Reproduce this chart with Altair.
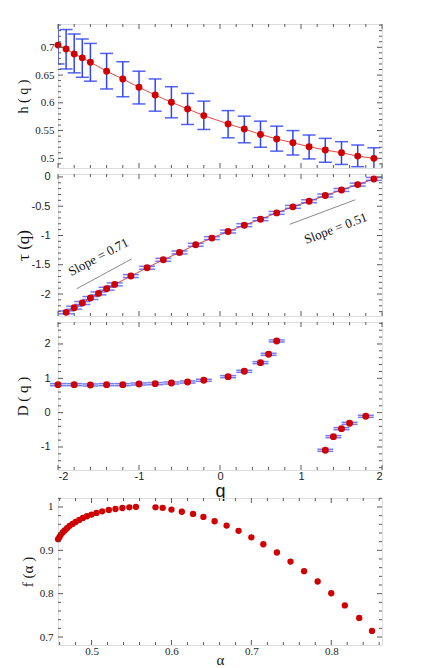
import altair as alt
import pandas as pd

# ---------------- data ----------------
q_h = [-2.0, -1.9, -1.8, -1.7, -1.6, -1.4, -1.2, -1.0, -0.8, -0.6, -0.4, -0.2,
       0.1, 0.3, 0.5, 0.7, 0.9, 1.1, 1.3, 1.5, 1.7, 1.9]
h_val = [0.704, 0.697, 0.688, 0.681, 0.673, 0.657, 0.643, 0.628, 0.614, 0.601, 0.589, 0.577,
         0.562, 0.553, 0.543, 0.535, 0.528, 0.521, 0.515, 0.510, 0.504, 0.500]
h_hi = [0.745, 0.732, 0.724, 0.715, 0.707, 0.689, 0.674, 0.657, 0.643, 0.629, 0.617, 0.603,
        0.586, 0.576, 0.567, 0.558, 0.550, 0.542, 0.536, 0.530, 0.524, 0.519]
h_lo = [0.670, 0.661, 0.654, 0.646, 0.639, 0.625, 0.611, 0.598, 0.585, 0.573, 0.561, 0.552,
        0.537, 0.528, 0.520, 0.513, 0.506, 0.499, 0.493, 0.489, 0.485, 0.479]

q_t = [-1.9, -1.8, -1.7, -1.6, -1.5, -1.4, -1.3, -1.1, -0.9, -0.7, -0.5, -0.3, -0.1,
       0.1, 0.3, 0.5, 0.7, 0.9, 1.1, 1.3, 1.5, 1.7, 1.9]
tau_val = [-2.313, -2.233, -2.153, -2.068, -1.989, -1.909, -1.835, -1.693, -1.551, -1.415,
           -1.290, -1.159, -1.045, -0.932, -0.824, -0.722, -0.614, -0.511, -0.415, -0.318,
           -0.222, -0.131, -0.034]
tau_err = [0.025] * len(q_t)

slope_text = ["Slope = 0.71", "Slope = 0.51"]
slope_tx = [-1.50, 1.43]
slope_ty = [-1.37, -0.88]
slope_ang = [332, 339]
slope_x1 = [-1.77, 0.86]
slope_y1 = [-1.91, -0.81]
slope_x2 = [-1.09, 1.67]
slope_y2 = [-1.40, -0.39]

q_d = [-2.0, -1.8, -1.6, -1.4, -1.2, -1.0, -0.8, -0.6, -0.4, -0.2, 0.1, 0.3, 0.5, 0.6, 0.7,
       1.3, 1.4, 1.5, 1.6, 1.8]
d_val = [0.816, 0.816, 0.806, 0.816, 0.816, 0.835, 0.845, 0.864, 0.893, 0.942, 1.049, 1.204,
         1.456, 1.699, 2.087, -1.097, -0.699, -0.466, -0.311, -0.107]
d_err = [0.03] * len(q_d)

alpha = [0.4581, 0.4598, 0.4614, 0.4639, 0.4664, 0.4693, 0.4726, 0.4763, 0.4801, 0.4846,
         0.4892, 0.4942, 0.5000, 0.5062, 0.5133, 0.5216, 0.5299, 0.5386, 0.5473, 0.5556,
         0.580, 0.589, 0.600, 0.613, 0.627, 0.640, 0.654, 0.669, 0.684, 0.700, 0.715,
         0.732, 0.749, 0.766, 0.783, 0.800, 0.817, 0.835, 0.851]
f_alpha = [0.9258, 0.9304, 0.9357, 0.9411, 0.9457, 0.9510, 0.9564, 0.9610, 0.9656, 0.9702,
           0.9748, 0.9786, 0.9824, 0.9863, 0.9900, 0.9931, 0.9954, 0.9977, 0.9992, 1.000,
           0.9992, 0.998, 0.994, 0.989, 0.984, 0.977, 0.967, 0.957, 0.945, 0.930, 0.914,
           0.895, 0.874, 0.852, 0.828, 0.801, 0.773, 0.744, 0.714]

q_major = [-2, -1, 0, 1, 2]
q_minor = [-1.8, -1.6, -1.4, -1.2, -0.8, -0.6, -0.4, -0.2, 0.2, 0.4, 0.6, 0.8,
           1.2, 1.4, 1.6, 1.8]
h_major = [0.5, 0.55, 0.6, 0.65, 0.7]
h_minor = [0.49, 0.51, 0.52, 0.53, 0.54, 0.56, 0.57, 0.58, 0.59, 0.61, 0.62, 0.63, 0.64,
           0.66, 0.67, 0.68, 0.69, 0.71, 0.72, 0.73, 0.74]
t_major = [-2, -1.5, -1, -0.5, 0]
t_minor = [-2.3, -2.2, -2.1, -1.9, -1.8, -1.7, -1.6, -1.4, -1.3, -1.2, -1.1, -0.9, -0.8,
           -0.7, -0.6, -0.4, -0.3, -0.2, -0.1]
d_major = [-1, 0, 1, 2]
d_minor = [-1.6, -1.4, -1.2, -0.8, -0.6, -0.4, -0.2, 0.2, 0.4, 0.6, 0.8, 1.2, 1.4, 1.6,
           1.8, 2.2, 2.4, 2.6]
a_major = [0.5, 0.6, 0.7, 0.8]
a_minor = [0.46, 0.48, 0.52, 0.54, 0.56, 0.58, 0.62, 0.64, 0.66, 0.68, 0.72, 0.74, 0.76,
           0.78, 0.82, 0.84, 0.86]
f_major = [0.7, 0.8, 0.9, 1.0]
f_minor = [0.72, 0.74, 0.76, 0.78, 0.82, 0.84, 0.86, 0.88, 0.92, 0.94, 0.96, 0.98, 1.02]

# ---------------- styling ----------------
RED = "#d00000"
LINE_RED = "#e04848"
BLUE = "#3346ee"
FRAME = "#5a5a5a"
SERIF = "Liberation Serif"
SANS = "Liberation Sans"
LABEL_EXPR = "'' + datum.value"

W = 324
H1, H2, H3, H4 = 144, 142, 148, 147


def y_axis(values, title, font, title_size, extent, title_pad, label_pad, title_font=SERIF):
    return alt.Axis(values=values, ticks=False, tickSize=0, domain=False, grid=False,
                    labelExpr=LABEL_EXPR, labelFont=font, labelFontSize=11,
                    labelColor="#222", labelPadding=label_pad,
                    title=title, titleFont=title_font, titleFontSize=title_size,
                    titleFontWeight="normal", titleColor="#111", titlePadding=title_pad,
                    minExtent=extent, maxExtent=extent)


def frame_ticks(width, height, xs, ys, xax, yax, xmaj, xmin, ymaj, ymin):
    layers = []
    for vals, ln in [(ymaj, 5), (ymin, 3)]:
        base = alt.Chart(pd.DataFrame({"v": vals})).mark_rule(color=FRAME, strokeWidth=1)
        enc_y = alt.Y("v:Q", scale=ys, axis=yax)
        layers.append(base.encode(y=enc_y, x=alt.value(0), x2=alt.value(ln)))
        layers.append(base.encode(y=enc_y, x=alt.value(width - ln), x2=alt.value(width)))
    for vals, ln in [(xmaj, 5), (xmin, 3)]:
        base = alt.Chart(pd.DataFrame({"v": vals})).mark_rule(color=FRAME, strokeWidth=1)
        enc_x = alt.X("v:Q", scale=xs, axis=xax)
        layers.append(base.encode(x=enc_x, y=alt.value(height - ln), y2=alt.value(height)))
        layers.append(base.encode(x=enc_x, y=alt.value(0), y2=alt.value(ln)))
    return layers


qscale = alt.Scale(domain=[-2, 2], nice=False, zero=False)

# ---------------- panel 1: h(q) ----------------
s1 = alt.Scale(domain=[0.4826, 0.742], nice=False, zero=False)
ax1 = y_axis(h_major, "h ( q )", SERIF, 14, 22, 6, 4)
df1 = pd.DataFrame({"q": q_h, "h": h_val, "lo": h_lo, "hi": h_hi})
b1 = alt.Chart(df1)
X1 = alt.X("q:Q", scale=qscale, axis=None)
p1_layers = [
    b1.mark_line(color=LINE_RED, strokeWidth=1).encode(x=X1, y=alt.Y("h:Q", scale=s1, axis=ax1)),
    b1.mark_rule(color=BLUE, strokeWidth=1.5, clip=True).encode(
        x=X1, y=alt.Y("lo:Q", scale=s1, axis=ax1), y2="hi:Q"),
    b1.mark_tick(color=BLUE, orient="horizontal", size=13, thickness=1.5, clip=True, opacity=0.85).encode(
        x=X1, y=alt.Y("lo:Q", scale=s1, axis=ax1)),
    b1.mark_tick(color=BLUE, orient="horizontal", size=13, thickness=1.5, clip=True, opacity=0.85).encode(
        x=X1, y=alt.Y("hi:Q", scale=s1, axis=ax1)),
    b1.mark_circle(color=RED, size=48, opacity=1).encode(x=X1, y=alt.Y("h:Q", scale=s1, axis=ax1)),
]
p1 = alt.layer(*p1_layers, *frame_ticks(W, H1, qscale, s1, None, ax1,
                                         q_major, q_minor, h_major, h_minor)
               ).properties(width=W, height=H1)

# ---------------- panel 2: tau(q) ----------------
s2 = alt.Scale(domain=[-2.375, 0.05], nice=False, zero=False)
ax2 = y_axis(t_major, "τ (q)", SANS, 17, 22, 4, 8)
df2 = pd.DataFrame({"q": q_t, "t": tau_val,
                    "lo": [a - e for a, e in zip(tau_val, tau_err)],
                    "hi": [a + e for a, e in zip(tau_val, tau_err)]})
b2 = alt.Chart(df2)
df2s = pd.DataFrame({"label": slope_text, "x": slope_tx, "y": slope_ty, "ang": slope_ang,
                     "x1": slope_x1, "y1": slope_y1, "x2": slope_x2, "y2": slope_y2})
b2s = alt.Chart(df2s)
X2 = alt.X("q:Q", scale=qscale, axis=None)
p2_layers = [
    b2s.mark_rule(color="#8a8a8a", strokeWidth=1).encode(
        x=alt.X("x1:Q", scale=qscale, axis=None), y=alt.Y("y1:Q", scale=s2, axis=ax2),
        x2="x2:Q", y2="y2:Q"),
    b2s.mark_text(font=SERIF, fontSize=13, color="#111").encode(
        x=alt.X("x:Q", scale=qscale, axis=None), y=alt.Y("y:Q", scale=s2, axis=ax2),
        text="label:N", angle=alt.Angle("ang:Q", scale=None)),
    b2.mark_line(color=LINE_RED, strokeWidth=1).encode(x=X2, y=alt.Y("t:Q", scale=s2, axis=ax2)),
    b2.mark_tick(color=BLUE, orient="horizontal", size=16, thickness=1.5, opacity=0.7).encode(
        x=X2, y=alt.Y("lo:Q", scale=s2, axis=ax2)),
    b2.mark_tick(color=BLUE, orient="horizontal", size=16, thickness=1.5, opacity=0.7).encode(
        x=X2, y=alt.Y("hi:Q", scale=s2, axis=ax2)),
    b2.mark_circle(color=RED, size=48, opacity=1).encode(x=X2, y=alt.Y("t:Q", scale=s2, axis=ax2)),
]
p2 = alt.layer(*p2_layers, *frame_ticks(W, H2, qscale, s2, None, ax2,
                                         q_major, q_minor, t_major, t_minor)
               ).properties(width=W, height=H2)

# ---------------- panel 3: D(q) ----------------
s3 = alt.Scale(domain=[-1.67, 2.64], nice=False, zero=False)
ax3 = y_axis(d_major, "D ( q )", SANS, 15, 22, 6, 8, title_font=SERIF)
xax3 = alt.Axis(values=q_major, ticks=False, tickSize=0, domain=False, grid=False,
                labelExpr=LABEL_EXPR, labelFont=SANS, labelFontSize=11, labelColor="#222",
                labelPadding=0, title="q", titleFont=SANS, titleFontSize=18,
                titleFontWeight="normal", titleColor="#111", titlePadding=1)
df3 = pd.DataFrame({"q": q_d, "d": d_val,
                    "lo": [a - e for a, e in zip(d_val, d_err)],
                    "hi": [a + e for a, e in zip(d_val, d_err)]})
b3 = alt.Chart(df3)
X3 = alt.X("q:Q", scale=qscale, axis=xax3)
p3_layers = [
    b3.mark_tick(color=BLUE, orient="horizontal", size=16, thickness=1.5, opacity=0.7).encode(
        x=X3, y=alt.Y("lo:Q", scale=s3, axis=ax3)),
    b3.mark_tick(color=BLUE, orient="horizontal", size=16, thickness=1.5, opacity=0.7).encode(
        x=X3, y=alt.Y("hi:Q", scale=s3, axis=ax3)),
    b3.mark_circle(color=RED, size=48, opacity=1).encode(x=X3, y=alt.Y("d:Q", scale=s3, axis=ax3)),
]
p3 = alt.layer(*p3_layers, *frame_ticks(W, H3, qscale, s3, xax3, ax3,
                                         q_major, q_minor, d_major, d_minor)
               ).properties(width=W, height=H3)

# ---------------- spacer (room for the q axis) ----------------
spacer = alt.Chart(pd.DataFrame({"v": [0]})).mark_point(opacity=0).encode(
    x=alt.X("v:Q", axis=None), y=alt.Y("v:Q", axis=None)
).properties(width=W, height=16, view=alt.ViewBackground(stroke="transparent", strokeOpacity=0))

# ---------------- panel 4: f(alpha) ----------------
sx4 = alt.Scale(domain=[0.458, 0.8635], nice=False, zero=False)
sy4 = alt.Scale(domain=[0.6816, 1.0207], nice=False, zero=False)
ax4 = y_axis(f_major, "f (α )", SERIF, 15, 22, 1, 5)
xax4 = alt.Axis(values=a_major, ticks=False, tickSize=0, domain=False, grid=False,
                labelExpr=LABEL_EXPR, labelFont=SERIF, labelFontSize=11, labelColor="#222",
                labelPadding=0, title="α", titleFont=SERIF, titleFontSize=15,
                titleFontWeight="normal", titleColor="#111", titlePadding=-4)
df4 = pd.DataFrame({"a": alpha, "f": f_alpha})
p4 = alt.layer(
    alt.Chart(df4).mark_circle(color=RED, size=40, opacity=1).encode(
        x=alt.X("a:Q", scale=sx4, axis=xax4), y=alt.Y("f:Q", scale=sy4, axis=ax4)),
    *frame_ticks(W, H4, sx4, sy4, xax4, ax4, a_major, a_minor, f_major, f_minor)
).properties(width=W, height=H4)

chart = alt.vconcat(p1, p2, p3, spacer, p4, spacing=6, bounds="flush").properties(
    padding={"left": 5, "top": 15, "right": 5, "bottom": 0}
).configure_view(stroke=FRAME, strokeWidth=1.5).configure(background="white")

chart.save("out.html", embed_options={"renderer": "svg", "actions": False})
